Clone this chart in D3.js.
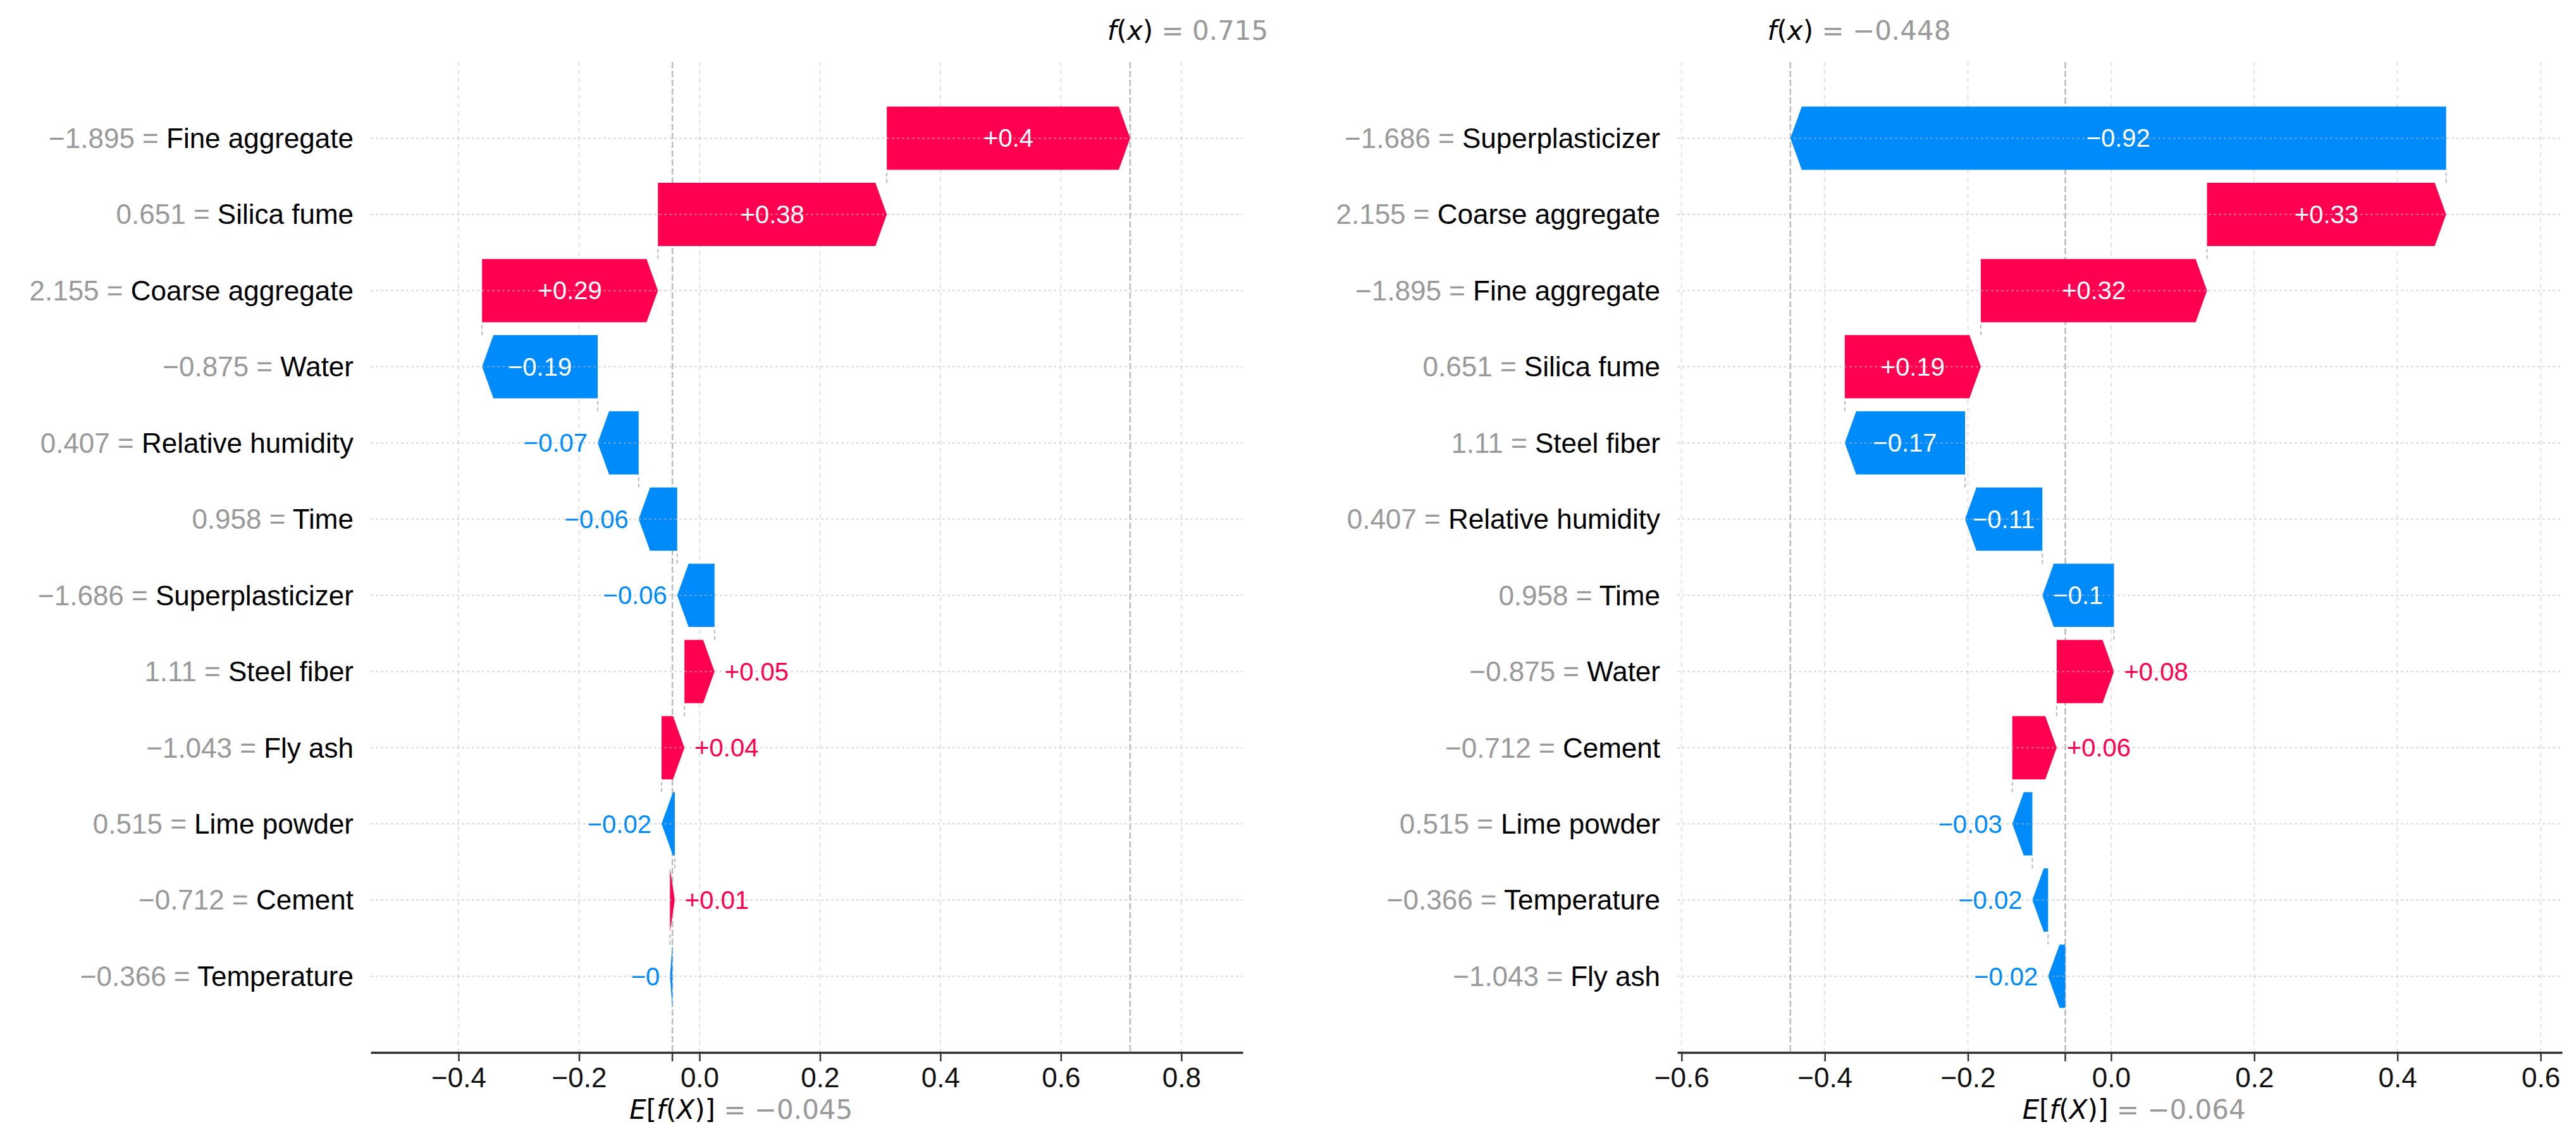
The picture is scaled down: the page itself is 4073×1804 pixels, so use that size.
<!DOCTYPE html>
<html>
<head>
<meta charset="utf-8">
<script src="https://cdn.jsdelivr.net/npm/d3@7"></script>
<style>
  body { margin: 0; background: #fff; }
  text { font-family: "Liberation Sans", Arial, sans-serif; }
  .math { font-family: "DejaVu Sans", sans-serif; }
</style>
</head>
<body>
<div id="chart-area"></div>
<script>
// ---- data (rows listed top to bottom) ----
var leftFeatures = ["Fine aggregate", "Silica fume", "Coarse aggregate", "Water", "Relative humidity", "Time",
    "Superplasticizer", "Steel fiber", "Fly ash", "Lime powder", "Cement", "Temperature"];
var leftFeatureValues = [-1.895, 0.651, 2.155, -0.875, 0.407, 0.958, -1.686, 1.11, -1.043, 0.515, -0.712, -0.366];
var leftShap = [0.404, 0.38, 0.292, -0.192, -0.068, -0.064, -0.062, 0.05, 0.038, -0.022, 0.008, -0.004];
var leftBase = -0.045;
var leftFx = 0.715;
var leftTicks = [-0.4, -0.2, 0.0, 0.2, 0.4, 0.6, 0.8];
var leftDomain = [-0.546, 0.902];

var rightFeatures = ["Superplasticizer", "Coarse aggregate", "Fine aggregate", "Silica fume", "Steel fiber",
    "Relative humidity", "Time", "Water", "Cement", "Lime powder", "Temperature", "Fly ash"];
var rightFeatureValues = [-1.686, 2.155, -1.895, 0.651, 1.11, 0.407, 0.958, -0.875, -0.712, 0.515, -0.366, -1.043];
var rightShap = [-0.916, 0.334, 0.316, 0.19, -0.168, -0.108, -0.1, 0.08, 0.062, -0.028, -0.022, -0.024];
var rightBase = -0.064;
var rightFx = -0.448;
var rightTicks = [-0.6, -0.4, -0.2, 0.0, 0.2, 0.4, 0.6];
var rightDomain = [-0.606, 0.630];

var width = 4073;
var height = 1804;
var red = "#ff0051", blue = "#008bfb";

var svg = d3.select("#chart-area")
    .append("svg")
    .attr("width", width)
    .attr("height", height);
svg.append("rect").attr("width", width).attr("height", height).attr("fill", "#fff");

// strip trailing zeros like shap's format_value
function strip(s) { return s.replace(/\.?0+$/, ""); }
var fmtShap = (v) => strip(d3.format("+.2f")(v));
var fmtVal = (v) => strip(d3.format(".3f")(v));

function drawPanel(p) {
    var n = p.features.length;
    var x = d3.scaleLinear().domain(p.domain).range(p.range);
    var y = d3.scaleLinear().domain([-1, n]).range([98, 1664]);
    var barH = 100;
    var top = y.range()[0], bottom = y.range()[1];
    var g = svg.append("g");

    // cumulative positions, built from the bottom row up
    var bars = [];
    var cum = p.base;
    for (var i = n - 1; i >= 0; i--) {
        bars[i] = {i: i, start: cum, end: cum + p.shap[i], v: p.shap[i]};
        cum += p.shap[i];
    }

    // tick grid lines
    g.selectAll(".vgrid").data(p.ticks).enter().append("line")
        .attr("x1", d => x(d)).attr("x2", d => x(d))
        .attr("y1", top).attr("y2", bottom)
        .attr("stroke", "#d0d0d0").attr("stroke-width", 2)
        .attr("stroke-dasharray", "7 6").attr("opacity", 0.6);

    // base and f(x) lines
    [p.base, p.fx].forEach(function(v) {
        g.append("line")
            .attr("x1", x(v)).attr("x2", x(v))
            .attr("y1", top).attr("y2", bottom)
            .attr("stroke", "#bbbbbb").attr("stroke-width", 2.5)
            .attr("stroke-dasharray", "10 4");
    });

    // connectors between consecutive bars
    g.selectAll(".conn").data(bars.slice(1)).enter().append("line")
        .attr("x1", d => x(d.end)).attr("x2", d => x(d.end))
        .attr("y1", d => y(d.i) - barH / 2).attr("y2", d => y(d.i - 1) + barH / 2)
        .attr("stroke", "#bbbbbb").attr("stroke-width", 2)
        .attr("stroke-dasharray", "6 4");

    // arrow bars
    g.selectAll(".bar").data(bars).enter().append("path")
        .attr("d", function(d) {
            var x0 = x(d.start), x1 = x(d.end), cy = y(d.i), h = barH / 2;
            var dir = x1 >= x0 ? 1 : -1;
            var head = Math.min(Math.abs(x1 - x0), 18);
            return "M" + x0 + "," + (cy - h) + "L" + (x1 - dir * head) + "," + (cy - h) +
                "L" + x1 + "," + cy + "L" + (x1 - dir * head) + "," + (cy + h) +
                "L" + x0 + "," + (cy + h) + "Z";
        })
        .attr("fill", d => d.v >= 0 ? red : blue);

    // row lines (drawn faintly over the bars)
    g.selectAll(".hgrid").data(bars).enter().append("line")
        .attr("x1", p.range[0]).attr("x2", p.range[1])
        .attr("y1", d => y(d.i)).attr("y2", d => y(d.i))
        .attr("stroke", "#bbbbbb").attr("stroke-width", 2)
        .attr("stroke-dasharray", "4 4").attr("opacity", 0.55);

    // bar value labels
    g.selectAll(".blabel").data(bars).enter().append("text")
        .attr("y", d => y(d.i)).attr("dy", "0.35em")
        .attr("font-size", "40px")
        .text(d => fmtShap(d.v))
        .each(function(d) {
            var t = d3.select(this);
            var tw = this.getComputedTextLength();
            var x0 = x(d.start), x1 = x(d.end);
            var bw = Math.abs(x1 - x0);
            if (tw + 14 < bw) {
                t.attr("x", (x0 + x1) / 2).attr("text-anchor", "middle").attr("fill", "#fff");
            } else if (d.v >= 0) {
                t.attr("x", x1 + 16).attr("text-anchor", "start").attr("fill", red);
            } else {
                t.attr("x", x1 - 16).attr("text-anchor", "end").attr("fill", blue);
            }
        });

    // feature labels
    var fl = g.selectAll(".flabel").data(bars).enter().append("text")
        .attr("x", p.range[0] - 27).attr("y", d => y(d.i)).attr("dy", "0.35em")
        .attr("text-anchor", "end").attr("font-size", "44px");
    fl.append("tspan").attr("fill", "#999999").text(d => fmtVal(p.values[d.i]) + " = ");
    fl.append("tspan").attr("fill", "#000").text(d => p.features[d.i]);

    // bottom axis
    var axis = g.append("g")
        .attr("transform", "translate(0," + bottom + ")")
        .call(d3.axisBottom(x).tickValues(p.ticks).tickFormat(d3.format(".1f"))
            .tickSize(14).tickSizeOuter(0).tickPadding(10));
    axis.select(".domain").attr("stroke", "#333").attr("stroke-width", 3.5);
    axis.selectAll(".tick line").attr("stroke", "#333").attr("stroke-width", 2.5);
    axis.selectAll(".tick text").attr("font-size", "44px").attr("fill", "#111")
        .attr("font-family", "'Liberation Sans', Arial, sans-serif");
    g.append("line")
        .attr("x1", x(p.base)).attr("x2", x(p.base))
        .attr("y1", bottom).attr("y2", bottom + 14)
        .attr("stroke", "#333").attr("stroke-width", 2.5);

    // f(x) and E[f(X)] labels
    function mathLabel(xPos, yPos, parts, value) {
        var t = g.append("text").attr("class", "math").attr("y", yPos).attr("font-size", "42px");
        parts.forEach(function(pt) {
            t.append("tspan").attr("font-style", pt[1] ? "italic" : "normal").attr("fill", "#000").text(pt[0]);
        });
        var w = t.node().getComputedTextLength();
        t.append("tspan").attr("fill", "#999999").text(" = " + d3.format(".3f")(value));
        t.attr("x", xPos - w / 2);
    }
    mathLabel(x(p.fx), 63, [["f", 1], ["(", 0], ["x", 1], [")", 0]], p.fx);
    mathLabel(x(p.base), 1769, [["E", 1], ["[", 0], ["f", 1], ["(", 0], ["X", 1], [")", 0], ["]", 0]], p.base);
}

drawPanel({features: leftFeatures, values: leftFeatureValues, shap: leftShap, base: leftBase, fx: leftFx,
    ticks: leftTicks, domain: leftDomain, range: [586, 1965]});
drawPanel({features: rightFeatures, values: rightFeatureValues, shap: rightShap, base: rightBase, fx: rightFx,
    ticks: rightTicks, domain: rightDomain, range: [2652, 4051]});
</script>
</body>
</html>
